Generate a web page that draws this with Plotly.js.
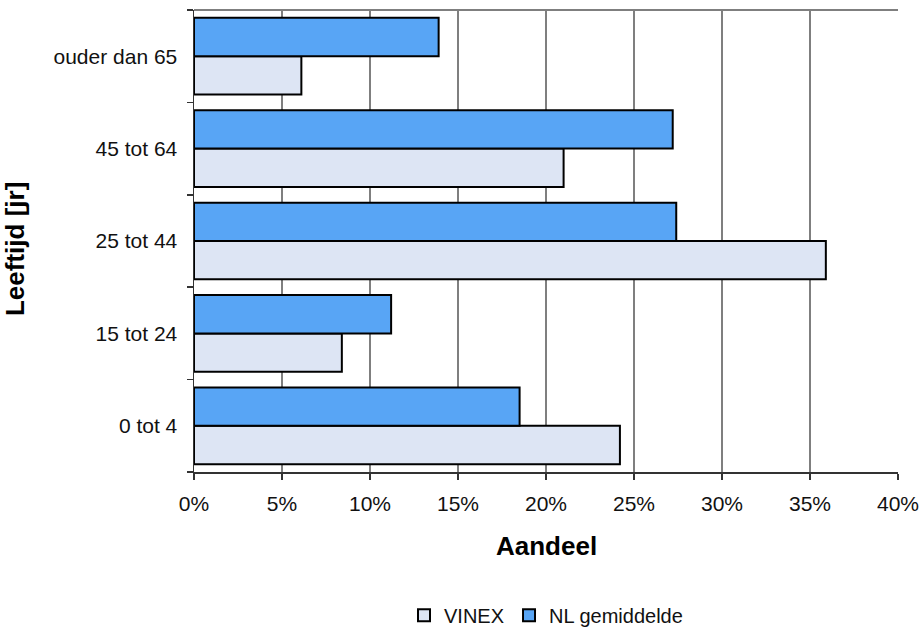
<!DOCTYPE html>
<html>
<head>
<meta charset="utf-8">
<script src="https://cdn.plot.ly/plotly-3.0.1.min.js"></script>
<style>html,body{margin:0;padding:0;background:#fff;}#chart{width:920px;height:628px;}</style>
</head>
<body>
<div id="chart"></div>
<script>
const categories = ["0 tot 4", "15 tot 24", "25 tot 44", "45 tot 64", "ouder dan 65"];
const vinex = [0.242, 0.084, 0.359, 0.210, 0.061];
const nlGemiddelde = [0.185, 0.112, 0.274, 0.272, 0.139];
const xTickVals = [0, 0.05, 0.10, 0.15, 0.20, 0.25, 0.30, 0.35, 0.40];
const xTickText = ["0%", "5%", "10%", "15%", "20%", "25%", "30%", "35%", "40%"];
const xTitle = "Aandeel";
const yTitle = "Leeftijd [jr]";

const font = "Liberation Sans, Arial, sans-serif";

const data = [
  {
    type: "bar", orientation: "h", name: "VINEX",
    y: categories, x: vinex,
    marker: {color: "#DDE5F4", line: {color: "#000", width: 2}}
  },
  {
    type: "bar", orientation: "h", name: "NL gemiddelde",
    y: categories, x: nlGemiddelde,
    marker: {color: "#58A5F5", line: {color: "#000", width: 2}}
  }
];

const titleFont = {size: 26, family: font, weight: "bold", color: "#000"};

const layout = {
  width: 920, height: 628,
  margin: {l: 194, r: 22, t: 10, b: 156, autoexpand: false},
  paper_bgcolor: "#fff", plot_bgcolor: "#fff",
  barmode: "group", bargap: 0.17, bargroupgap: 0,
  font: {family: font, size: 21, color: "#111"},
  xaxis: {
    range: [0, 0.40], tickvals: xTickVals, ticktext: xTickText,
    showgrid: true, gridcolor: "#7f7f7f", gridwidth: 1.5,
    showline: true, linecolor: "#333", linewidth: 1.5,
    ticks: "outside", ticklen: 6, tickcolor: "#333", tickwidth: 1.5,
    ticklabelstandoff: 6, automargin: false,
    zeroline: false, fixedrange: true,
    tickfont: {size: 21, family: font, color: "#111"}
  },
  yaxis: {
    categoryorder: "array", categoryarray: categories,
    showgrid: false, showline: true, linecolor: "#333", linewidth: 1.5,
    ticks: "outside", tickson: "boundaries", ticklen: 6, tickcolor: "#333", tickwidth: 1.5,
    ticklabelstandoff: 11, automargin: false,
    zeroline: false, fixedrange: true,
    tickfont: {size: 21, family: font, color: "#111"}
  },
  annotations: [
    {text: xTitle, xref: "paper", yref: "paper", x: 0.5, y: -0.16, xanchor: "center", yanchor: "middle",
     showarrow: false, font: titleFont},
    {text: yTitle, xref: "paper", yref: "paper", x: -0.254, y: 0.483, xanchor: "center", yanchor: "middle",
     showarrow: false, textangle: -90, font: titleFont}
  ],
  showlegend: true,
  legend: {
    orientation: "h", x: 0.5, xanchor: "center", y: -0.31, yanchor: "middle",
    font: {size: 20, family: font, color: "#111"}, traceorder: "normal", itemwidth: 30
  },
  shapes: [
    {type: "line", xref: "paper", yref: "paper", x0: 0, x1: 1, y0: 1, y1: 1, line: {color: "#7f7f7f", width: 2}}
  ]
};

Plotly.newPlot("chart", data, layout, {displayModeBar: false, staticPlot: true});
</script>
</body>
</html>
